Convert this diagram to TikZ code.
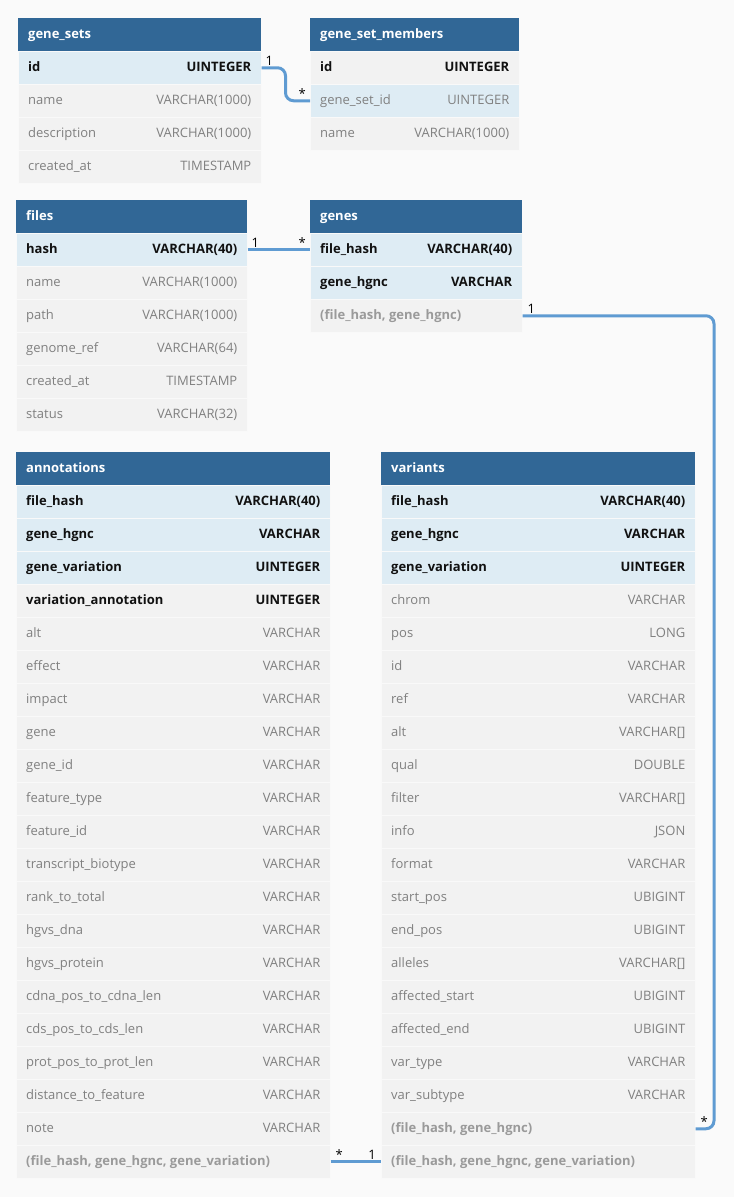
\documentclass[tikz,border=0pt]{standalone}
\usepackage{fontspec}
\setmainfont{Open Sans}
\definecolor{pagebg}{HTML}{FAFAFA}
\definecolor{hdrblue}{HTML}{316796}
\definecolor{keyblue}{HTML}{DEECF4}
\definecolor{rowgray}{HTML}{F2F2F2}
\definecolor{linkblue}{HTML}{5F9BD2}
\colorlet{bgk}{keyblue}
\colorlet{bgh}{keyblue}
\colorlet{bgb}{rowgray}
\colorlet{bgn}{rowgray}
\colorlet{bgi}{rowgray}
\definecolor{txk}{HTML}{111111}
\definecolor{txb}{HTML}{111111}
\definecolor{txn}{HTML}{808080}
\definecolor{txh}{HTML}{808080}
\definecolor{txi}{HTML}{9A9A9A}
\newcommand\fsz{\fontsize{13}{15}\selectfont}
\newcommand\ftk{\bfseries}
\newcommand\ftb{\bfseries}
\newcommand\fti{\bfseries}
\newcommand\ftn{\mdseries}
\newcommand\fth{\mdseries}
\tikzset{
  hdr/.style={anchor=north west, fill=hdrblue, minimum height=33pt, inner sep=0pt},
  hdrtxt/.style={anchor=base west, inner sep=0pt, text=white, font=\fsz\bfseries},
  rowbox/.style={anchor=north west, minimum height=33pt, inner sep=0pt, draw=white!55!rowgray, line width=0.5pt},
  rowtxt/.style={inner sep=0pt},
  link/.style={draw=linkblue, line width=3pt, rounded corners=8pt},
  card/.style={inner sep=0pt, font=\fsz, text=black},
}
\newcommand\dbtable[6]{%
  \node[hdr, minimum width=#4] (#1-0) at (#2,#3) {};
  \node[hdrtxt] (#1-title) at ([xshift=10pt,yshift=-3.6pt]#1-0.west) {#5};
  \foreach \s/\n/\t [count=\i] in {#6} {
    \node[rowbox, minimum width=#4, fill=bg\s] (#1-\i) at (#2,#3+33*\i) {};
    \node[rowtxt, anchor=base west, text=tx\s, font=\fsz\csname ft\s\endcsname] (#1-\i-n) at ([xshift=10pt,yshift=-3.6pt]#1-\i.west) {\n};
    \node[rowtxt, anchor=base east, text=tx\s, font=\fsz\csname ft\s\endcsname] (#1-\i-t) at ([xshift=-10pt,yshift=-3.6pt]#1-\i.east) {\t};
  }
}
\begin{document}
\begin{tikzpicture}[x=1pt,y=-1pt]
\useasboundingbox (0,0) rectangle (734,1197);
\fill[pagebg] (0,0) rectangle (734,1197);

\dbtable{gs}{18}{18}{243pt}{gene\_sets}{k/id/UINTEGER, n/name/VARCHAR(1000), n/description/VARCHAR(1000), n/created\_at/TIMESTAMP}
\dbtable{gsm}{310}{18}{209pt}{gene\_set\_members}{b/id/UINTEGER, h/gene\_set\_id/UINTEGER, n/name/VARCHAR(1000)}
\dbtable{fl}{16}{200}{231pt}{files}{k/hash/VARCHAR(40), n/name/VARCHAR(1000), n/path/VARCHAR(1000), n/genome\_ref/VARCHAR(64), n/created\_at/TIMESTAMP, n/status/VARCHAR(32)}
\dbtable{gn}{310}{200}{212pt}{genes}{k/file\_hash/VARCHAR(40), k/gene\_hgnc/VARCHAR, i/{(file\_hash, gene\_hgnc)}/{}}
\dbtable{an}{16}{452}{314pt}{annotations}{k/file\_hash/VARCHAR(40), k/gene\_hgnc/VARCHAR, k/gene\_variation/UINTEGER, b/variation\_annotation/UINTEGER, n/alt/VARCHAR, n/effect/VARCHAR, n/impact/VARCHAR, n/gene/VARCHAR, n/gene\_id/VARCHAR, n/feature\_type/VARCHAR, n/feature\_id/VARCHAR, n/transcript\_biotype/VARCHAR, n/rank\_to\_total/VARCHAR, n/hgvs\_dna/VARCHAR, n/hgvs\_protein/VARCHAR, n/cdna\_pos\_to\_cdna\_len/VARCHAR, n/cds\_pos\_to\_cds\_len/VARCHAR, n/prot\_pos\_to\_prot\_len/VARCHAR, n/distance\_to\_feature/VARCHAR, n/note/VARCHAR, i/{(file\_hash, gene\_hgnc, gene\_variation)}/{}}
\dbtable{vr}{381}{452}{314pt}{variants}{k/file\_hash/VARCHAR(40), k/gene\_hgnc/VARCHAR, k/gene\_variation/UINTEGER, n/chrom/VARCHAR, n/pos/LONG, n/id/VARCHAR, n/ref/VARCHAR, n/alt/VARCHAR[], n/qual/DOUBLE, n/filter/VARCHAR[], n/info/JSON, n/format/VARCHAR, n/start\_pos/UBIGINT, n/end\_pos/UBIGINT, n/alleles/VARCHAR[], n/affected\_start/UBIGINT, n/affected\_end/UBIGINT, n/var\_type/VARCHAR, n/var\_subtype/VARCHAR, i/{(file\_hash, gene\_hgnc)}/{}, i/{(file\_hash, gene\_hgnc, gene\_variation)}/{}}

% connectors
\coordinate (m1) at (285.5,0);
\coordinate (m3) at (714,0);
\draw[link] (gs-1.east) -- (gs-1.east -| m1) -- (gsm-2.west -| m1) -- (gsm-2.west);
\draw[link] (fl-1.east) -- (gn-1.west);
\draw[link] (gn-3.east) -- (gn-3.east -| m3) -- (vr-20.east -| m3) -- (vr-20.east);
\draw[link] (an-21.east) -- (vr-21.west);

% cardinalities
\node[card, anchor=south west] (c1a) at ([xshift=4pt,yshift=2.5pt]gs-1.east) {1};
\node[card, anchor=south east] (c1b) at ([xshift=-4pt,yshift=2.5pt]gsm-2.west) {*};
\node[card, anchor=south west] (c2a) at ([xshift=4pt,yshift=2.5pt]fl-1.east) {1};
\node[card, anchor=south east] (c2b) at ([xshift=-4pt,yshift=2.5pt]gn-1.west) {*};
\node[card, anchor=south west] (c3a) at ([xshift=5pt,yshift=2.5pt]gn-3.east) {1};
\node[card, anchor=south west] (c3b) at ([xshift=5pt,yshift=2.5pt]vr-20.east) {*};
\node[card, anchor=south west] (c4a) at ([xshift=5pt,yshift=2.5pt]an-21.east) {*};
\node[card, anchor=south east] (c4b) at ([xshift=-5pt,yshift=2.5pt]vr-21.west) {1};
\end{tikzpicture}
\end{document}
